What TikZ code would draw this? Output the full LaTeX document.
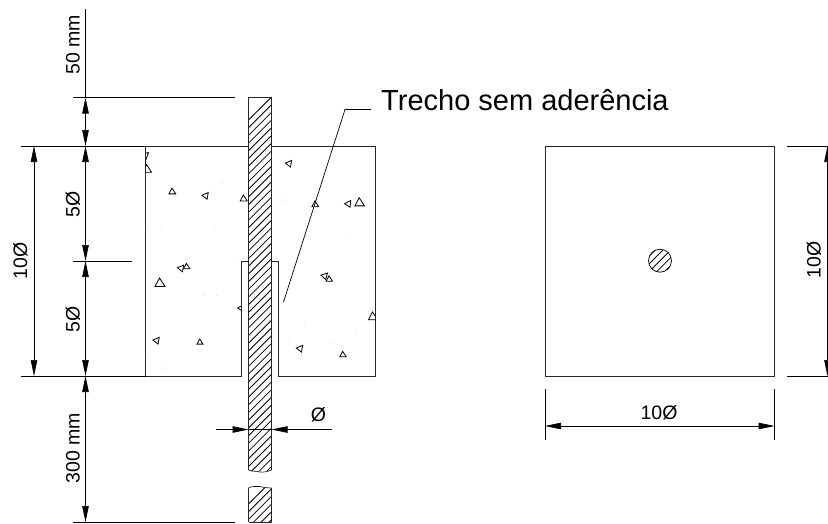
\documentclass[tikz,border=0pt]{standalone}
\usepackage{fontspec}
\setsansfont{Liberation Sans}
\usetikzlibrary{arrows.meta, positioning}
\tikzset{
  dimline/.style={line width=0.7pt, black},
  dimtip/.style={{Triangle[length=16pt,width=6.5pt]}-{Triangle[length=16pt,width=6.5pt]}},
  outline/.style={line width=0.9pt, black!85},
  hatchline/.style={line width=0.8pt, black},
  stone/.style={line width=0.8pt, black},
  dimtext/.style={font=\sffamily\fontsize{19.5}{19.5}\selectfont, inner sep=0pt},
}
\begin{document}
\begin{tikzpicture}[x=1pt,y=-1pt]
\useasboundingbox (0,0) rectangle (828,523);
% coordinates of the cut
\coordinate (BarTL) at (248.5,97.5);
\coordinate (BarTR) at (271.5,97.5);
\coordinate (BlockTL) at (145.5,146);
\coordinate (BlockTR) at (375,146);
\coordinate (BlockBL) at (145.5,376);
\coordinate (BlockBR) at (375,376);
\coordinate (SleeveL) at (241.5,261);
\coordinate (SleeveR) at (278.5,261);
% concrete block
\draw[outline] (248.5,146) -- (BlockTL) -- (BlockBL) -- (241.5,376) -- (SleeveL) -- (248.5,261);
\draw[outline] (271.5,146) -- (BlockTR) -- (BlockBR) -- (278.5,376) -- (SleeveR) -- (271.5,261);
% aggregate
\begin{scope}
\clip (BlockTL) -- (248.5,146) -- (248.5,261) -- (SleeveL) -- (241.5,376) -- (BlockBL) -- cycle
      (271.5,146) -- (BlockTR) -- (BlockBR) -- (278.5,376) -- (SleeveR) -- (271.5,261) -- cycle;
\foreach \x/\y/\s/\r in {145/155/3.5/70, 147/169/4.5/0, 172.3/191.5/3.4/0, 205.3/195.5/3.4/80,
  243.7/198.5/3.5/0, 180.7/268/3.4/80, 186.7/266.5/3.2/0, 160/283/5/0, 241/308/3.4/85,
  156.3/340.3/3.4/80, 200/342/3/0, 288.7/163.3/3.4/80, 315.3/204.3/3.4/0, 348/203.7/3.4/85,
  359.7/202.5/4.8/0, 324.3/275.7/3.4/75, 329.3/279/3.2/0, 373/316.5/4.5/0, 299.7/348.3/3.4/80, 343/354.5/3.2/0}
  \draw[stone,rotate around={\r:(\x,\y)}] (\x-\s,\y+0.7*\s) -- (\x+\s,\y+0.7*\s) -- (\x-0.1*\s,\y-\s) -- cycle;
\end{scope}
% speckle of the concrete
\foreach \x/\y in {155/162, 149/229, 161/227, 215/230, 222/182, 235/258, 204/295, 217/295, 149/352, 163/368, 285/200, 270/310, 349/235, 305/325, 356/330, 290/338, 331/343}
  \fill[black!35] (\x,\y) circle (0.5);
% bar, upper part
\begin{scope}
\clip (BarTL) rectangle (271.5,470.5);
\foreach \i in {0,...,50}
  \draw[hatchline] (248.5,120+7.7*\i) -- ++(23,-23);
\end{scope}
\draw[outline] (248.5,470) -- (BarTL) -- (BarTR) -- (271.5,470);
\draw[line width=0.6pt] (248.5,470) .. controls (252,472) and (256,470.5) .. (260,472) .. controls (264,472.5) and (268,471.5) .. (271.5,470);
% bar, lower part
\begin{scope}
\clip (248.5,488) rectangle (271.5,522);
\foreach \i in {0,...,7}
  \draw[hatchline] (248.5,504+7.7*\i) -- ++(23,-23);
\end{scope}
\draw[outline] (248.5,522) -- (248.5,488) (271.5,488) -- (271.5,522);
\draw[line width=0.6pt] (248.5,488) .. controls (252,486) and (256,486.5) .. (260,486.5) .. controls (264,487.5) and (268,488) .. (271.5,488);
\draw[outline] (248.5,522) -- (271.5,522);
% extension lines
\coordinate (Ext1a) at (73,97.5); \coordinate (Ext1b) at (235,97.5);
\coordinate (Ext2a) at (21,146); \coordinate (Ext2b) at (145.5,146);
\coordinate (Ext3a) at (73,261); \coordinate (Ext3b) at (132,261);
\coordinate (Ext4a) at (21,376); \coordinate (Ext4b) at (145.5,376);
\coordinate (Ext5a) at (73,522); \coordinate (Ext5b) at (235,522);
\foreach \a/\b in {Ext1a/Ext1b, Ext2a/Ext2b, Ext3a/Ext3b, Ext4a/Ext4b, Ext5a/Ext5b}
  \draw[dimline] (\a) -- (\b);
% dimension lines
\coordinate (TopEnd) at (85.5,9);
\coordinate (D1) at (85.5,97.5);
\coordinate (D2) at (85.5,146);
\coordinate (D3) at (85.5,261);
\coordinate (D4) at (85.5,376);
\coordinate (D5) at (85.5,522);
\draw[dimline] (TopEnd) -- (D1);
\draw[dimline,dimtip] (D1) -- (D2);
\draw[dimline,dimtip] (D2) -- (D3);
\draw[dimline,dimtip] (D3) -- (D4);
\draw[dimline,dimtip] (D4) -- (D5);
\coordinate (Ten1) at (34,146);
\coordinate (Ten2) at (34,376);
\draw[dimline,dimtip] (Ten1) -- (Ten2);
\node[dimtext,rotate=90] (L50) at (73,45) {50 mm};
\node[dimtext,rotate=90] (L5a) at (73,204) {5Ø};
\node[dimtext,rotate=90] (L5b) at (73,319) {5Ø};
\node[dimtext,rotate=90] (L10) at (20.5,261) {10Ø};
\node[dimtext,rotate=90] (L300) at (73,448) {300 mm};
% bar diameter
\coordinate (PhiL) at (216,429.5);
\coordinate (PhiR) at (331.5,429.5);
\coordinate (PhiA) at (248.5,429.5);
\coordinate (PhiB) at (271.5,429.5);
\draw[dimline,-{Triangle[length=16pt,width=6.5pt]}] (PhiL) -- (PhiA);
\draw[dimline,-{Triangle[length=16pt,width=6.5pt]}] (PhiR) -- (PhiB);
\draw[dimline] (PhiA) -- (PhiB);
\node[dimtext] (Phi) at (318.5,414.5) {Ø};
% leader
\node[font=\sffamily\fontsize{29}{29}\selectfont, inner sep=0pt, anchor=west] (Trecho) at (381,100) {Trecho sem aderência};
\coordinate (Lead1) at (371,109.5);
\coordinate (Lead2) at (345,109.5);
\coordinate (Lead3) at (283.5,302);
\draw[dimline] (Lead1) -- (Lead2) -- (Lead3);
% plan view
\coordinate (PlanTL) at (545,146);
\coordinate (PlanBR) at (774.5,376);
\draw[outline] (PlanTL) rectangle (PlanBR);
\coordinate (Hole) at (660,260.7);
\begin{scope}
\clip (Hole) circle (11.5);
\foreach \i in {-3,...,3}
  \draw[hatchline] (640,280.7+7.7*\i) -- ++(40,-40);
\end{scope}
\draw[line width=0.7pt] (Hole) circle (11.5);
% plan dimensions
\draw[dimline] (787,146) -- (828,146);
\draw[dimline] (787,376) -- (828,376);
\coordinate (RightA) at (827.5,146);
\coordinate (RightB) at (827.5,376);
\draw[dimline,dimtip] (RightA) -- (RightB);
\node[dimtext,rotate=90] (LR) at (814,260) {10Ø};
\draw[dimline] (545,389) -- (545,440);
\draw[dimline] (774.5,389) -- (774.5,440);
\coordinate (BotA) at (545,426);
\coordinate (BotB) at (774.5,426);
\draw[dimline,dimtip] (BotA) -- (BotB);
\node[dimtext] (LB) at (659,413) {10Ø};
\end{tikzpicture}
\end{document}
